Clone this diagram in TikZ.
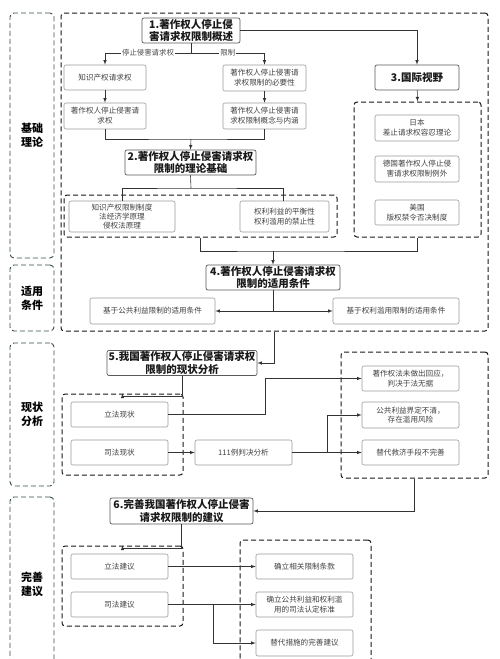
\documentclass[tikz,border=0pt]{standalone}
\usepackage{fontspec}
\setmainfont{Noto Sans CJK SC}
\usepackage{tikz}

\begin{document}
\begin{tikzpicture}[x=1pt,y=-1pt,
  wh/.style 2 args={minimum width=#1pt,minimum height=#2pt},
  box/.style={draw=black!40,rounded corners=2pt,align=center,text=black!75,inner sep=0pt,line width=0.6pt,font=\fontsize{7.6}{9.8}\selectfont},
  head/.style={draw=black!65,rounded corners=2pt,align=center,text=black!90,inner sep=0pt,line width=0.7pt,font=\fontsize{10.5}{12.5}\selectfont\bfseries},
  grp/.style={draw=black!90,dash pattern=on 5pt off 3pt,rounded corners=3pt,line width=1pt,inner sep=0pt},
  side/.style={draw={rgb,255:red,55;green,80;blue,60},dash pattern=on 5pt off 3pt,rounded corners=4pt,line width=0.9pt,inner sep=0pt,align=center,font=\fontsize{11}{14}\selectfont\bfseries},
  line/.style={draw=black!80,line width=0.6pt},
  arr/.style={line,-latex}]
\useasboundingbox (0,0) rectangle (500,659);

% left labels
\node[side,wh={44}{245}] (sBase) at (32,135.5) {基础\\理论};
\node[side,wh={44}{66}] (sCond) at (32,298) {适用\\条件};
\node[side,wh={44}{143}] (sNow) at (32,414.5) {现状\\分析};
\node[side,wh={44}{170}] (sSug) at (32,582) {};
\node[font=\fontsize{11}{14}\selectfont\bfseries,align=center] (sSugText) at (32,584) {完善\\建议};

% dashed groups
\node[grp,wh={427}{318}] (gTop) at (274.5,172) {};
\node[grp,wh={273}{42}] (gTheory) at (200.5,216) {};
\node[grp,wh={127}{135}] (gIntl) at (417.5,169.5) {};
\node[grp,wh={121}{81}] (gNow) at (122.5,434.5) {};
\node[grp,wh={147}{126}] (gProb) at (414.5,415) {};
\node[grp,wh={121}{80}] (gSug) at (122.5,586) {};
\node[grp,wh={131}{134}] (gMeas) at (305.5,607) {};

% part 1
\node[head,wh={98}{25}] (n1) at (191,30.5) {1.著作权人停止侵\\害请求权限制概述};
\node[box,wh={82}{25}] (ip) at (105,77.5) {知识产权请求权};
\node[box,wh={82}{26}] (stop) at (105,116) {著作权人停止侵害请\\求权};
\node[box,wh={83}{26}] (need) at (264.5,78) {著作权人停止侵害请\\求权限制的必要性};
\node[box,wh={83}{26}] (concept) at (264.5,116) {著作权人停止侵害请\\求权限制概念与内涵};

% part 2
\node[head,wh={131}{25}] (n2) at (190.5,162.5) {2.著作权人停止侵害请求权\\限制的理论基础};
\node[box,wh={106}{31},font=\fontsize{7.6}{9.3}\selectfont] (thA) at (122,216.5) {知识产权限制制度\\法经济学原理\\侵权法原理};
\node[box,wh={89}{31}] (thB) at (284.5,216.5) {权利利益的平衡性\\权利滥用的禁止性};

% part 3
\node[head,wh={84}{25}] (n3) at (417,77.5) {3.国际视野};
\node[box,wh={84}{26}] (jp) at (417,128) {日本\\差止请求权容忍理论};
\node[box,wh={84}{26}] (de) at (417,169) {德国著作权人停止侵\\害请求权限制例外};
\node[box,wh={84}{25}] (us) at (417,212.5) {美国\\版权禁令否决制度};

% part 4
\node[head,wh={134}{25}] (n4) at (273,277.5) {4.著作权人停止侵害请求权\\限制的适用条件};
\node[box,wh={125}{26}] (pub) at (152.5,311) {基于公共利益限制的适用条件};
\node[box,wh={126}{26}] (abuse) at (396,311) {基于权利滥用限制的适用条件};

% part 5
\node[head,wh={150}{25}] (n5) at (182,363) {5.我国著作权人停止侵害请求权\\限制的现状分析};
\node[box,wh={97}{25}] (lawNow) at (119.5,414.5) {立法现状};
\node[box,wh={97}{25}] (courtNow) at (119.5,452.5) {司法现状};
\node[box,wh={97}{25}] (cases) at (243.5,452.5) {111例判决分析};
\node[box,wh={97}{25}] (p1) at (410.5,378.5) {著作权法未做出回应，\\判决于法无据};
\node[box,wh={97}{26}] (p2) at (410.5,415) {公共利益界定不清，\\存在滥用风险};
\node[box,wh={97}{25}] (p3) at (410.5,452.5) {替代救济手段不完善};

% part 6
\node[head,wh={143}{26}] (n6) at (181.5,511) {6.完善我国著作权人停止侵害\\请求权限制的建议};
\node[box,wh={97}{25}] (lawSug) at (119.5,566.5) {立法建议};
\node[box,wh={97}{25}] (courtSug) at (119.5,604.5) {司法建议};
\node[box,wh={97}{25}] (m1) at (304.5,566.5) {确立相关限制条款};
\node[box,wh={97}{25}] (m2) at (304.5,604.5) {确立公共利益和权利滥\\用的司法认定标准};
\node[box,wh={97}{26}] (m3) at (304.5,643) {替代措施的完善建议};

% connectors
\coordinate (b1) at (191,53);
\coordinate (j1) at (191,139);
\coordinate (j2) at (191,188);
\coordinate (j3) at (273,251);
\coordinate (j4) at (273,311);
\coordinate (j5) at (213,604.5);
\draw[line] (n1.south) -- (b1);
\draw[arr] (b1) -| node[pos=0.25,fill=white,inner sep=1pt,text=black!70,font=\fontsize{7.4}{9}\selectfont] {停止侵害请求权} (ip.north);
\draw[arr] (b1) -| node[pos=0.25,fill=white,inner sep=1pt,text=black!70,font=\fontsize{7.4}{9}\selectfont] {限制} (need.north);
\draw[arr] (ip) -- (stop);
\draw[arr] (need) -- (concept);
\draw[line] (stop.south) |- (j1) -| (concept.south);
\draw[arr] (j1) -- (n2.north);
\draw[arr] (n1.east) -| (n3.north);
\draw[arr] (n3) -- (gIntl.north);
\draw[line] (n2.south) -- (j2);
\draw[line] (thA.north) |- (j2) -| (283,201);
\draw[line] (gTheory.south) |- (j3) -| (gIntl.south);
\draw[arr] (j3) -- (n4.north);
\draw[line] (n4.south) -- (j4);
\draw[arr] (j4) -- (pub.east);
\draw[arr] (j4) -- (abuse.west);
\draw[arr] (gTop.south) |- (n5.east);
\draw[arr] (n5.south) -- ++(0,20) -| (gNow.north);
\draw[arr] (courtNow) -- (cases);
\draw[arr] (lawNow.east) -- ++(97,0) |- (p1.west);
\draw[arr] (cases.east) -- ++(35,0) |- (p2.west);
\draw[arr] (cases) -- (p3);
\draw[arr] (gProb.south) |- (n6.east);
\draw[arr] (n6.south) -- ++(0,24) -| (gSug.north);
\draw[arr] (lawSug) -- (m1);
\draw[arr] (courtSug) -- (m2);
\draw[arr] (j5) |- (m3.west);
\end{tikzpicture}
\end{document}
